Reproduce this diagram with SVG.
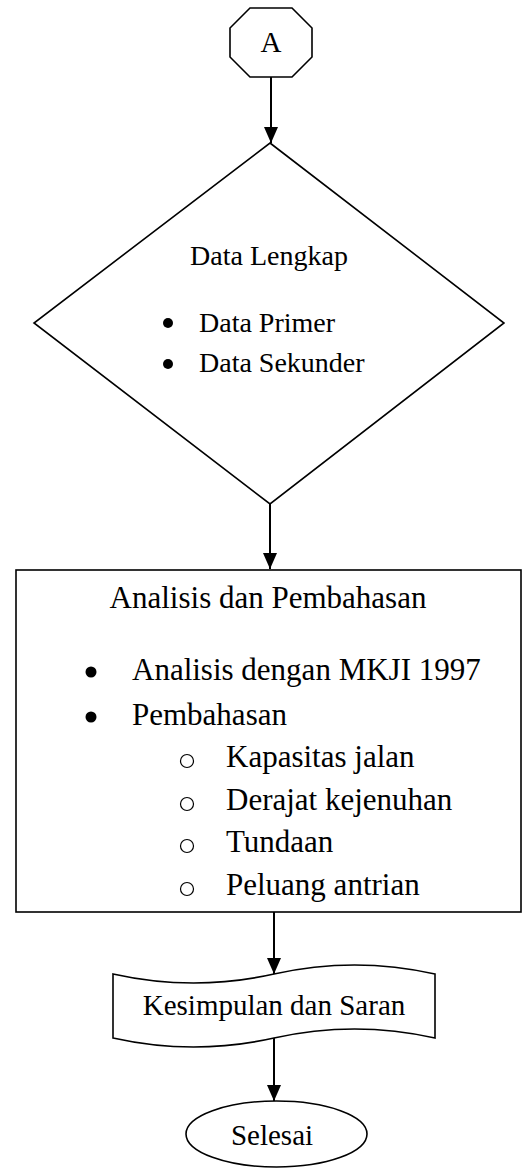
<svg xmlns="http://www.w3.org/2000/svg" width="532" height="1169" viewBox="0 0 532 1169">
<style>
.shape{fill:#fff;stroke:#000;stroke-width:1.6}
.t{font-family:"Liberation Serif","Times New Roman",serif;fill:#000}
.c{text-anchor:middle}
.conn{stroke:#000;stroke-width:2;fill:none}
.dot{fill:#000}
.ring{fill:none;stroke:#000;stroke-width:1.2}
</style>
<defs>
<marker id="ah" viewBox="0 0 16 14" refX="16" refY="7" markerWidth="16" markerHeight="14" markerUnits="userSpaceOnUse" orient="auto">
<path d="M0,0 L16,7 L0,14 Z" fill="#000"/>
</marker>
</defs>
<rect width="532" height="1169" fill="#fff"/>
<g id="connectors">
<line class="conn" x1="271" y1="77" x2="271" y2="143" marker-end="url(#ah)"/>
<line class="conn" x1="270" y1="504" x2="270" y2="569" marker-end="url(#ah)"/>
<line class="conn" x1="274" y1="912" x2="274" y2="974" marker-end="url(#ah)"/>
<line class="conn" x1="274" y1="1038" x2="274" y2="1101" marker-end="url(#ah)"/>
</g>
<g id="node-A">
<polygon class="shape" points="250,8 292,8 312,28 312,57 292,77 250,77 230,57 230,28"/>
<text class="t c" x="271" y="52" font-size="29">A</text>
</g>
<g id="node-data">
<polygon class="shape" points="270,143 504,323 270,504 34,323"/>
<text class="t c" x="269" y="265" font-size="28">Data Lengkap</text>
<circle class="dot" cx="168" cy="323" r="5"/>
<text class="t" x="199" y="332" font-size="28">Data Primer</text>
<circle class="dot" cx="168" cy="364" r="5"/>
<text class="t" x="199" y="372" font-size="28">Data Sekunder</text>
</g>
<g id="node-analisis">
<rect class="shape" x="16" y="570" width="505" height="342" stroke-width="2"/>
<text class="t c" x="268" y="608" font-size="31">Analisis dan Pembahasan</text>
<circle class="dot" cx="91" cy="672" r="5.5"/>
<text class="t" x="132" y="680" font-size="31">Analisis dengan MKJI 1997</text>
<circle class="dot" cx="91" cy="717" r="5.5"/>
<text class="t" x="132" y="725" font-size="31">Pembahasan</text>
<circle class="ring" cx="187" cy="761" r="6.5"/>
<text class="t" x="226" y="767" font-size="31">Kapasitas jalan</text>
<circle class="ring" cx="187" cy="804" r="6.5"/>
<text class="t" x="226" y="810" font-size="31">Derajat kejenuhan</text>
<circle class="ring" cx="187" cy="846" r="6.5"/>
<text class="t" x="226" y="852" font-size="31">Tundaan</text>
<circle class="ring" cx="187" cy="889" r="6.5"/>
<text class="t" x="226" y="895" font-size="31">Peluang antrian</text>
</g>
<g id="node-kesimpulan">
<path class="shape" d="M113,974 Q193.5,992 274,974 T435,974 L435,1038 Q354.5,1020 274,1038 T113,1038 Z"/>
<text class="t c" x="274" y="1015" font-size="29">Kesimpulan dan Saran</text>
</g>
<g id="node-selesai">
<ellipse class="shape" cx="276.5" cy="1134" rx="90.5" ry="33"/>
<text class="t c" x="272" y="1145" font-size="29">Selesai</text>
</g>
</svg>
